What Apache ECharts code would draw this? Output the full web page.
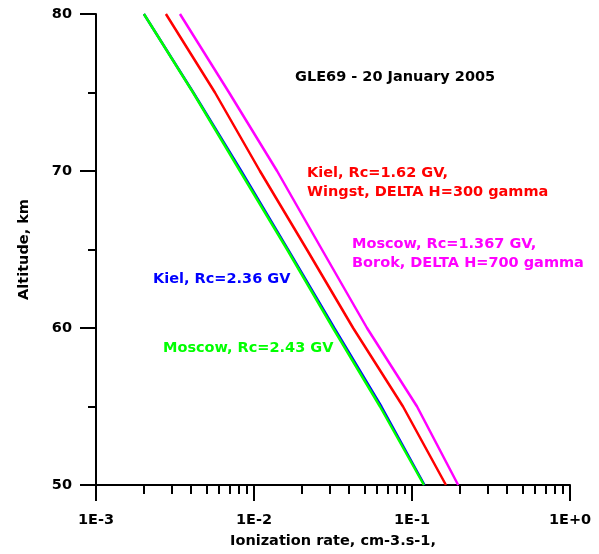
<!DOCTYPE html>
<html>
<head>
<meta charset="utf-8">
<script src="https://cdn.jsdelivr.net/npm/echarts@6/dist/echarts.min.js"></script>
<style>
  html, body { margin: 0; padding: 0; background: #fff; }
  #chart { width: 599px; height: 554px; }
</style>
</head>
<body>
<div id="chart"></div>
<script>
// Altitude levels (km) and ionization rates
const altitudes = [80, 75, 70, 65, 60, 55, 50];
const kiel236 = [0.00201, 0.00413, 0.00830, 0.0164, 0.0322, 0.0640, 0.120];
const moscow243 = [0.00201, 0.00411, 0.00815, 0.0162, 0.0316, 0.0627, 0.119];
const kiel162 = [0.00277, 0.00566, 0.0109, 0.0216, 0.0424, 0.0877, 0.164];
const moscow1367 = [0.0034, 0.00695, 0.0140, 0.0269, 0.0519, 0.1076, 0.196];

const minorTicks = [
  0.002, 0.003, 0.004, 0.005, 0.006, 0.007, 0.008, 0.009,
  0.02, 0.03, 0.04, 0.05, 0.06, 0.07, 0.08, 0.09,
  0.2, 0.3, 0.4, 0.5, 0.6, 0.7, 0.8, 0.9
];

const font = 'DejaVu Sans';
const fontSize = 14.5;

function pairs(xs) {
  return xs.map((x, i) => [x, altitudes[i]]);
}

function makeLine(name, data, color) {
  return {
    name: name,
    type: 'line',
    data: pairs(data),
    symbol: 'none',
    smooth: false,
    lineStyle: { color: color, width: 2.5 },
    animation: false
  };
}

function label(text, x, y, color) {
  return {
    type: 'text',
    left: x,
    top: y,
    style: {
      text: text,
      fill: color,
      font: 'bold ' + fontSize + 'px "' + font + '"',
      lineHeight: 19
    }
  };
}

const axisText = { color: '#000', fontFamily: font, fontWeight: 'bold', fontSize: fontSize };

let chart = echarts.init(document.getElementById('chart'));
chart.setOption({
  animation: false,
  grid: { left: 96, right: 29, top: 14, bottom: 67 },
  xAxis: [
    {
      type: 'log',
      logBase: 10,
      min: 0.001,
      max: 1,
      name: 'Ionization rate, cm-3.s-1,',
      nameLocation: 'middle',
      nameGap: 49,
      nameTextStyle: axisText,
      axisLine: { lineStyle: { color: '#000', width: 2 } },
      axisTick: { length: 16, lineStyle: { color: '#000', width: 2 } },
      axisLabel: Object.assign({}, axisText, {
        margin: 28,
        formatter: function (v) {
          const e = Math.round(Math.log10(v));
          return '1E' + (e >= 0 ? '+' : '-') + Math.abs(e);
        }
      }),
      splitLine: { show: false }
    },
    {
      type: 'log',
      logBase: 10,
      min: 0.001,
      max: 1,
      position: 'bottom',
      axisLine: { show: false },
      axisTick: {
        length: 9,
        customValues: minorTicks,
        lineStyle: { color: '#000', width: 2 }
      },
      axisLabel: { show: false },
      splitLine: { show: false }
    }
  ],
  yAxis: {
    type: 'value',
    min: 50,
    max: 80,
    interval: 10,
    name: 'Altitude, km',
    nameLocation: 'middle',
    nameGap: 64,
    nameTextStyle: axisText,
    axisLine: { show: true, lineStyle: { color: '#000', width: 2 } },
    axisTick: { show: true, length: 16, lineStyle: { color: '#000', width: 2 } },
    minorTick: { show: true, splitNumber: 2, length: 8, lineStyle: { color: '#000', width: 2 } },
    axisLabel: Object.assign({}, axisText, { margin: 24 }),
    splitLine: { show: false },
    minorSplitLine: { show: false }
  },
  series: [
    makeLine('Kiel, Rc=2.36 GV', kiel236, '#0000ff'),
    makeLine('Moscow, Rc=2.43 GV', moscow243, '#00ff00'),
    makeLine('Kiel, Rc=1.62 GV', kiel162, '#ff0000'),
    makeLine('Moscow, Rc=1.367 GV', moscow1367, '#ff00ff')
  ],
  graphic: [
    label('GLE69 - 20 January 2005', 295, 68, '#000'),
    label('Kiel, Rc=1.62 GV,\nWingst, DELTA H=300 gamma', 307, 164, '#ff0000'),
    label('Moscow, Rc=1.367 GV,\nBorok, DELTA H=700 gamma', 352, 235, '#ff00ff'),
    label('Kiel, Rc=2.36 GV', 153, 270, '#0000ff'),
    label('Moscow, Rc=2.43 GV', 163, 339, '#00ff00')
  ]
});
</script>
</body>
</html>
